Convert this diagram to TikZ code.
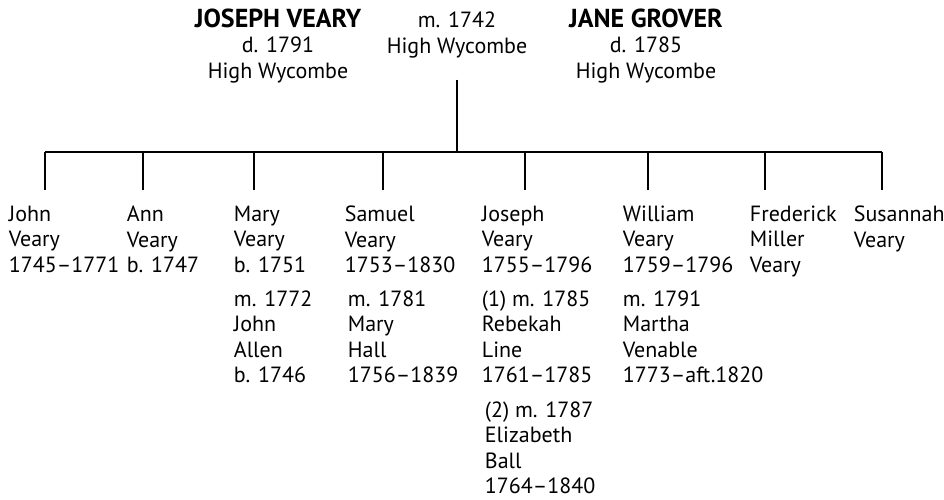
\documentclass[tikz,border=0pt]{standalone}
\usepackage{fontspec}
\setmainfont{PT Sans}
\usetikzlibrary{positioning}

\begin{document}
\begin{tikzpicture}[x=0.5pt, y=-0.5pt, line width=0.9pt,
	every node/.style={inner sep=0pt, font=\fontsize{11}{12.75}\selectfont},
	parent/.style={align=center, anchor=base},
	child/.style={align=left, anchor=north west},
	spouse/.style={align=left}]
	\useasboundingbox (0,0) rectangle (944,499);
	% parents and marriage
	\node[parent] (JV) at (278,78) {{\fontsize{13}{12.75}\selectfont\bfseries JOSEPH VEARY}\\d. 1791\\High Wycombe};
	\node[parent] (M) at (457,53) {m. 1742\\High Wycombe};
	\node[parent] (JG) at (646,78) {{\fontsize{13}{12.75}\selectfont\bfseries JANE GROVER}\\d. 1785\\High Wycombe};
	% children
	\node[child] (john) at (8,205) {John\\Veary\\1745--1771};
	\node[child] (ann) at (126,205) {Ann\\Veary\\b. 1747};
	\node[child] (mary) at (233,205) {Mary\\Veary\\b. 1751};
	\node[child] (samuel) at (344,205) {Samuel\\Veary\\1753--1830};
	\node[child] (joseph) at (481,205) {Joseph\\Veary\\1755--1796};
	\node[child] (william) at (622,205) {William\\Veary\\1759--1796};
	\node[child] (frederick) at (749,205) {Frederick\\Miller\\Veary};
	\node[child] (susannah) at (853,205) {Susannah\\Veary};
	% spouses
	\node[spouse, below right=8pt and 0pt of mary.south west] (allen) {m. 1772\\John\\Allen\\b. 1746};
	\node[spouse, below right=8pt and 1.5pt of samuel.south west] (hall) {m. 1781\\Mary\\Hall\\1756--1839};
	\node[spouse, below right=8pt and 0pt of joseph.south west] (line) {(1) m. 1785\\Rebekah\\Line\\1761--1785};
	\node[spouse, below right=8.5pt and 1.5pt of line.south west] (ball) {(2) m. 1787\\Elizabeth\\Ball\\1764--1840};
	\node[spouse, below right=8pt and 0pt of william.south west] (venable) {m. 1791\\Martha\\Venable\\1773--aft.1820};
	% lines of descent
	\coordinate (bar) at (457,152);
	\draw ([yshift=-10.5pt]M.south) -- (M.south |- bar);
	\foreach \c/\dx in {john/18.5pt, ann/8.5pt, mary/10.5pt, samuel/19.5pt, joseph/22pt, william/13pt, frederick/8pt, susannah/14.5pt}
		\draw ([xshift=\dx, yshift=7.5pt]\c.north west) coordinate (\c-top) -- (\c-top |- bar);
	\draw (john-top |- bar) -- (susannah-top |- bar);
\end{tikzpicture}
\end{document}
